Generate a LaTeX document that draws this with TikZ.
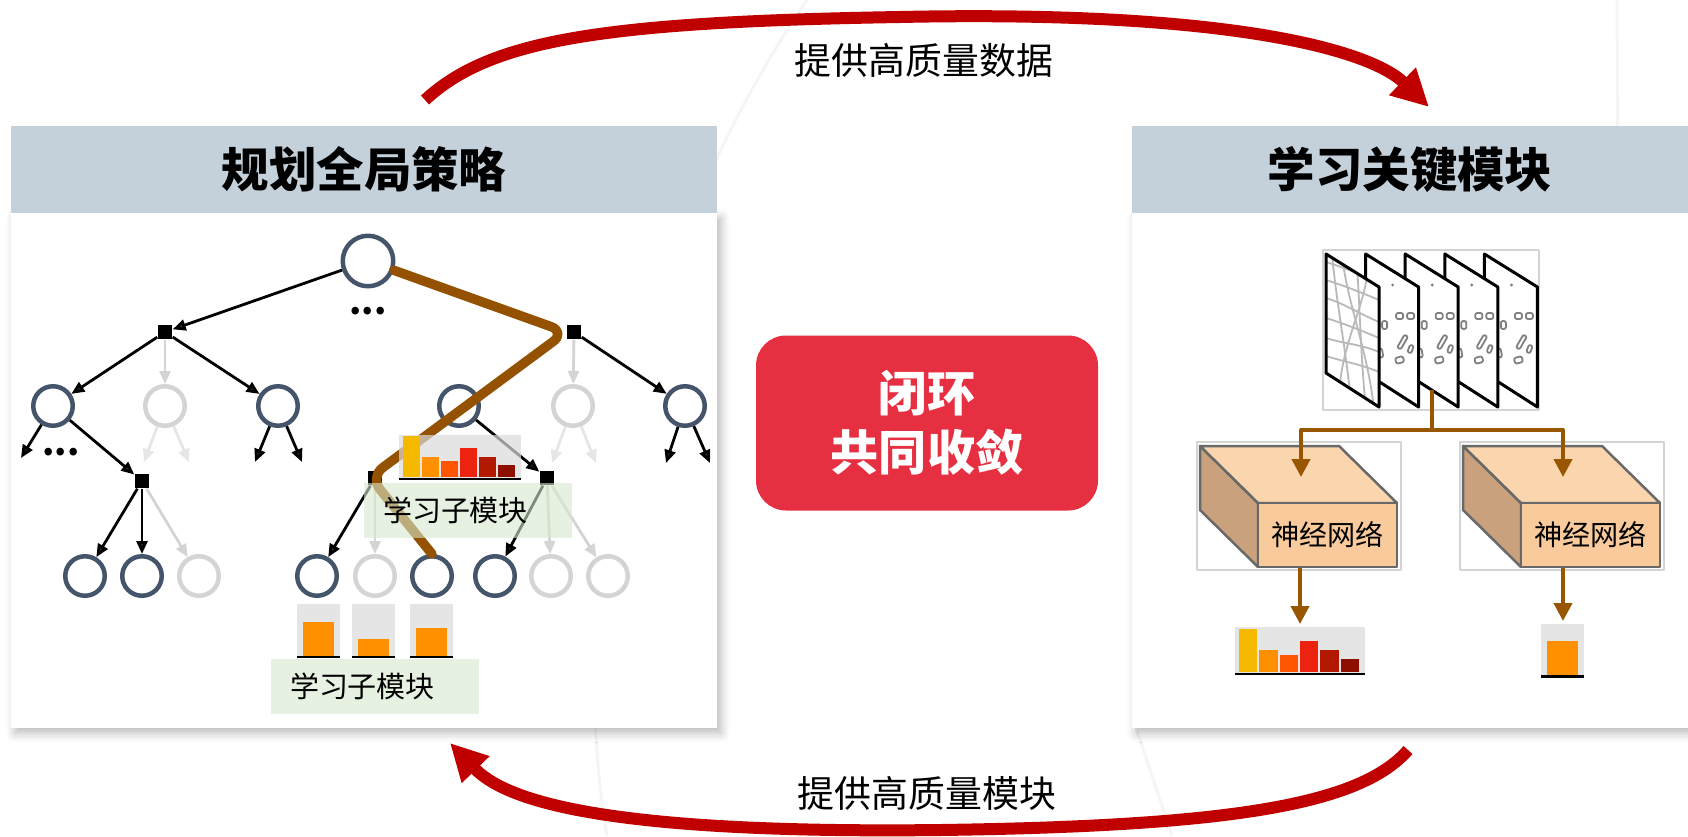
\documentclass[tikz,border=0pt]{standalone}
\usepackage{fontspec}
\setmainfont{Noto Sans CJK SC}
\usetikzlibrary{arrows.meta,shadows.blur}

\definecolor{headgray}{RGB}{196,208,218}
\definecolor{loopred}{RGB}{192,0,0}
\definecolor{corered}{RGB}{230,48,66}
\definecolor{slate}{RGB}{68,84,106}
\definecolor{ghost}{RGB}{212,212,212}
\definecolor{ghostlt}{RGB}{230,230,230}
\definecolor{tagfill}{RGB}{216,233,205}
\definecolor{barbg}{RGB}{219,219,219}
\definecolor{bar0}{RGB}{245,185,0}
\definecolor{bar1}{RGB}{255,145,0}
\definecolor{bar2}{RGB}{255,85,0}
\definecolor{bar3}{RGB}{235,35,15}
\definecolor{bar4}{RGB}{178,25,0}
\definecolor{bar5}{RGB}{140,15,0}
\definecolor{routebrown}{RGB}{148,82,0}
\definecolor{netbrown}{RGB}{152,86,0}
\definecolor{cubetop}{RGB}{250,213,174}
\definecolor{cubefront}{RGB}{249,203,156}
\definecolor{cubeside}{RGB}{201,161,124}
\definecolor{cubeedge}{RGB}{105,105,105}
\definecolor{framegray}{RGB}{212,212,212}

\begin{document}
\begin{tikzpicture}[x=0.1mm,y=-0.1mm,line join=round]
    \tikzset{
      panel/.style={fill=white,blur shadow={shadow xshift=0.4mm,shadow yshift=-0.5mm,
        shadow blur radius=0.9mm,shadow opacity=28}},
      head/.style={fill=headgray,minimum height=8.7mm,inner sep=0pt,
        font=\fontsize{13.5}{16}\selectfont\bfseries},
      core/.style={fill=corered,rounded corners=3mm,minimum width=34.2mm,minimum height=17.5mm,
        align=center,text=white,font=\fontsize{13.7}{16.8}\selectfont\bfseries},
      lbl/.style={font=\fontsize{10.5}{12}\selectfont},
      bgline/.style={gray!8,line width=0.3mm},
      bigarrow/.style={-{Triangle[length=3.7mm,width=3.6mm]},line width=1.2mm,loopred},
      st/.style={circle,draw=slate,line width=0.45mm,fill=white,minimum size=3.95mm,inner sep=0pt},
      ghostst/.style={st,draw=ghost},
      act/.style={rectangle,fill=black,minimum size=1.4mm,inner sep=0pt},
      arr/.style={-{Triangle[length=1.3mm,width=1.1mm]},line width=0.28mm},
      garr/.style={arr,ghost},
      farr/.style={arr,ghostlt},
      route/.style={line width=0.95mm,routebrown,rounded corners=1.6mm,line cap=round},
      tag/.style={fill=tagfill,fill opacity=0.6,text opacity=1,minimum height=5.5mm,
        text width=17mm,inner xsep=1.9mm,inner ysep=0pt,align=left,
        font=\fontsize{8.25}{9}\selectfont},
      dots/.style={font=\fontsize{10}{10}\selectfont\bfseries,inner sep=0pt},
      feed/.style={-{Triangle[length=1.8mm,width=1.8mm]},line width=0.4mm,netbrown},
      netface/.style={draw=cubeedge,line width=0.25mm,fill=cubefront,minimum width=13.9mm,
        minimum height=6.4mm,inner sep=0pt,font=\fontsize{8}{9}\selectfont},
      cube/.style={draw=cubeedge,line width=0.25mm},
      thinframe/.style={draw=framegray,line width=0.15mm},
      lane/.style={gray!55,line width=0.18mm},
      obj/.style={draw=gray,line width=0.18mm,rounded corners=0.2mm}
    }
    % bar chart, baseline at (#1,#2), scaled by #3
    \newcommand{\barchart}[3]{%
      \begin{scope}[shift={(#1,#2)},scale=#3]
        \fill[barbg,fill opacity=0.7] (0,0) rectangle (130,-47);
        \foreach \h [count=\i from 0] in {43.4,21.7,16.7,30.7,21.7,12.7}
          \fill[bar\i] (4+20.3*\i,-2) rectangle ++(18.3,-\h);
        \draw[line width=0.25mm] (0,0) -- (130,0);
      \end{scope}}
    \newcommand{\onebar}[3]{%
      \begin{scope}[shift={(#1,#2)}]
        \fill[barbg,fill opacity=0.7] (0,0) rectangle (43,-53);
        \fill[bar1] (6,-1) rectangle ++(31,-#3);
        \draw[line width=0.25mm] (0,0) -- (43,0);
      \end{scope}}
    % box with its front face as node #1, front top-left corner at (#2,#3)
    \newcommand{\netblock}[3]{%
      \draw[thinframe] (#2-61,#3-61) rectangle (#2+143,#3+67);
      \filldraw[cube,fill=cubeside] (#2,#3) -- (#2-58,#3-57) -- (#2-58,#3+7) -- (#2,#3+64) -- cycle;
      \filldraw[cube,fill=cubetop] (#2,#3) -- (#2-58,#3-57) -- (#2+81,#3-57) -- (#2+139,#3) -- cycle;
      \node[netface] (#1) at (#2+69.5,#3+32) {神经网络};
    }

    \useasboundingbox (0,0) rectangle (1688,836);
    \clip (0,0) rectangle (1688,836);

    \draw[bgline] (807,0) .. controls (650,230) and (560,560) .. (607,836);
    \draw[bgline] (1617,0) -- (1618,200);
    \draw[bgline] (1136,728) .. controls (1150,770) and (1160,800) .. (1172,836);

    % panels
    \path[panel] (11,213) rectangle (717,728);
    \path[panel] (1132,213) rectangle (1700,728);
    \node[head,minimum width=70.6mm] (plan) at (364,169.5) {规划全局策略};
    \node[head,minimum width=55.6mm] (learn) at (1410,169.5) {学习关键模块};

    % loop arrows
    \coordinate (dataout) at (425,100);
    \coordinate (datain) at (1429,107);
    \coordinate (modout) at (1408,750);
    \coordinate (modin) at (450,743);
    \draw[bigarrow] (dataout) .. controls (490,40) and (600,22) .. (900,17)
      .. controls (1230,10) and (1370,50) .. (datain);
    \draw[bigarrow] (modout) .. controls (1360,805) and (1230,826) .. (940,830)
      .. controls (600,834) and (505,800) .. (modin);
    \node[lbl] (givedata) at (924,60) {提供高质量数据};
    \node[lbl] (givemod) at (927,793) {提供高质量模块};

    \node[core] (loop) at (927,423) {闭环\\共同收敛};

    % search tree
    \node[st,minimum size=5.05mm] (root) at (368,261) {};
    \node[dots] (rootdots) at (368,311) {...};
    \node[act] (a1) at (165,332) {};
    \node[act] (a2) at (574,332) {};
    \node[st] (s1) at (53,406) {};
    \node[ghostst] (s2) at (165,406) {};
    \node[st] (s3) at (278,406) {};
    \node[st] (s4) at (459,406) {};
    \node[ghostst] (s5) at (573,406) {};
    \node[st] (s6) at (685,406) {};
    \node[act] (b1) at (142,481) {};
    \node[act] (b2) at (375,478) {};
    \node[act] (b3) at (547,478) {};
    \node[st] (l1) at (85,576) {};
    \node[st] (l2) at (142,576) {};
    \node[ghostst] (l3) at (199,576) {};
    \node[st] (l4) at (317,576) {};
    \node[ghostst] (l5) at (375,576) {};
    \node[st] (l6) at (432,576) {};
    \node[st] (l7) at (495,576) {};
    \node[ghostst] (l8) at (551,576) {};
    \node[ghostst] (l9) at (608,576) {};
    \node[dots] (s1dots) at (61,452) {...};
    \coordinate (s1l) at (21,458);
    \coordinate (s2l) at (144,462);
    \coordinate (s2r) at (189,462);
    \coordinate (s3l) at (255,462);
    \coordinate (s3r) at (302,462);
    \coordinate (s5l) at (552,463);
    \coordinate (s5r) at (596,463);
    \coordinate (s6l) at (666,463);
    \coordinate (s6r) at (710,463);

    \draw[arr] (root) -- (a1);
    \draw[garr] (a1) -- (s2);
    \draw[arr] (a1) -- (s1);
    \draw[arr] (a1) -- (s3);
    \draw[garr] (a2) -- (s5);
    \draw[arr] (a2) -- (s6);
    \draw[arr] (s1) -- (s1l);
    \draw[arr] (s1) -- (b1);
    \draw[farr] (s2) -- (s2l);
    \draw[farr] (s2) -- (s2r);
    \draw[arr] (s3) -- (s3l);
    \draw[arr] (s3) -- (s3r);
    \draw[arr] (s4) -- (b3);
    \draw[farr] (s5) -- (s5l);
    \draw[farr] (s5) -- (s5r);
    \draw[arr] (s6) -- (s6l);
    \draw[arr] (s6) -- (s6r);
    \draw[arr] (b1) -- (l1);
    \draw[arr] (b1) -- (l2);
    \draw[garr] (b1) -- (l3);
    \draw[arr] (b2) -- (l4);
    \draw[garr] (b2) -- (l5);
    \draw[arr] (b3) -- (l7);
    \draw[garr] (b3) -- (l8);
    \draw[garr] (b3) -- (l9);

    \coordinate (bend1) at (566,332);
    \coordinate (bend2) at (370,477);
    \draw[route] (root) -- (bend1) -- (bend2) -- (l6.north);

    \barchart{399}{479}{0.94}
    \node[tag] (subtag1) at (468,510.5) {学习子模块};
    \onebar{297}{657}{33.7}
    \onebar{351.5}{657}{17}
    \onebar{410}{657}{27.7}
    \node[tag] (subtag2) at (375,686.5) {学习子模块};

    % feature map stack
    \draw[thinframe] (1323,250) rectangle (1539,410);
    \foreach \k in {4,3,2,1} {
      \pgfmathsetmacro{\sx}{1326+39.6*\k}
      \filldraw[fill=white,line width=0.3mm] (\sx,254) -- ++(53,33) -- ++(0,120) -- ++(-53,-34) -- cycle;
      \fill[gray] (\sx+27,285) circle[radius=0.16mm];
      \foreach \dx/\dy/\w/\h/\r in {34/62/7/6/0,45/62/7/6/0,19/71/5/8/0,37/88/4/15/-30,
          45/95/4/8/-20,34/106/8/6/15,15/99/4/9/10}
        \draw[obj,rotate around={\r:(\sx+\dx,254+\dy)}] (\sx+\dx-\w/2,254+\dy-\h/2) rectangle ++(\w,\h);
    }
    \fill[white] (1326,254) -- ++(53,33) -- ++(0,120) -- ++(-53,-34) -- cycle;
    \begin{scope}
      \clip (1326,254) -- ++(53,33) -- ++(0,120) -- ++(-53,-34) -- cycle;
      \foreach \y/\e in {262/282,280/300,298/322,318/338,338/352,356/372}
        \draw[lane] (1326,\y) .. controls (1345,\y+6) and (1360,\e-8) .. (1379,\e);
      \foreach \t/\b in {1332/1352,1342/1374,1356/1366,1368/1340}
        \draw[lane] (\t,254) .. controls (\t+4,300) and (\b-6,350) .. (\b,410);
    \end{scope}
    \draw[line width=0.3mm] (1326,254) -- ++(53,33) -- ++(0,120) -- ++(-53,-34) -- cycle;

    % networks
    \netblock{net1}{1258}{503}
    \netblock{net2}{1521}{503}
    \coordinate (stemtop) at (1432,390);
    \coordinate (fork) at (1432,430);
    \coordinate (in1) at (1301,477);
    \coordinate (in2) at (1563,477);
    \coordinate (out1) at (1300,624);
    \coordinate (out2) at (1563,621);
    \draw[feed,-] (stemtop) -- (fork);
    \draw[feed] (fork) -| (in1);
    \draw[feed] (fork) -| (in2);
    \draw[feed] (net1.south -| out1) -- (out1);
    \draw[feed] (net2.south -| out2) -- (out2);
    \barchart{1235}{674}{1}
    \onebar{1541}{676.5}{34.5}
\end{tikzpicture}
\end{document}
